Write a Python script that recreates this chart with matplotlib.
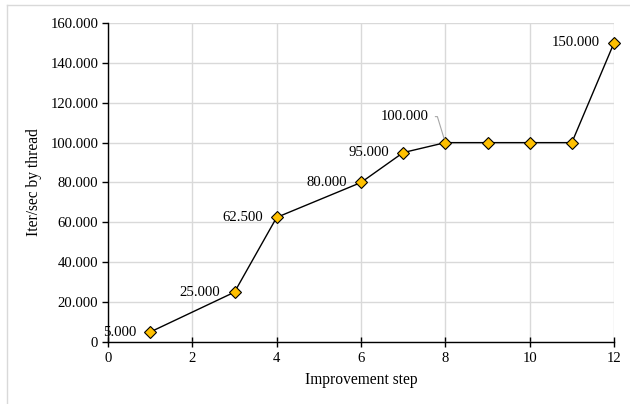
import matplotlib
matplotlib.use("Agg")
from matplotlib import pyplot as plt
from matplotlib.lines import Line2D

steps = [1, 3, 4, 6, 7, 8, 9, 10, 11, 12]
iters = [5000, 25000, 62500, 80000, 95000, 100000, 100000, 100000, 100000, 150000]
labeled = [1, 3, 4, 6, 7, 12]
x_ticks = [0, 2, 4, 6, 8, 10, 12]
y_ticks = [0, 20000, 40000, 60000, 80000, 100000, 120000, 140000, 160000]


def fmt(v):
    return f"{v:,.0f}".replace(",", ".")


plt.rcParams["font.family"] = ["Liberation Serif", "DejaVu Serif"]
plt.rcParams["font.size"] = 10.6

fig = plt.figure(figsize=(6.3, 4.04), dpi=100)
ax = fig.add_axes([108 / 630, 1 - 342 / 404, 506 / 630, 319 / 404])

# outer chart frame
fig.add_artist(Line2D([7 / 630, 7 / 630], [0, 1 - 5 / 404], color="#d9d9d9", lw=1, transform=fig.transFigure))
fig.add_artist(Line2D([7 / 630, 1], [1 - 5 / 404, 1 - 5 / 404], color="#d9d9d9", lw=1, transform=fig.transFigure))

ax.plot(steps, iters, color="black", lw=1, marker="D", ms=6.5,
        mfc="#ffc000", mec="black", mew=0.8, zorder=3, clip_on=False)

for x, y in zip(steps, iters):
    if x in labeled:
        ax.annotate(fmt(y), (x, y), xytext=(-14, 0), textcoords="offset pixels",
                    ha="right", va="center")

# label with leader line for step 8
ax.annotate(fmt(100000), (8, 100000), xytext=(-17, 26), textcoords="offset pixels",
            ha="right", va="center",
            arrowprops=dict(arrowstyle="-", color="#a6a6a6", lw=0.8,
                            connectionstyle="angle,angleA=0,angleB=107,rad=0",
                            shrinkA=3, shrinkB=3))

ax.set_xlim(0, 12)
ax.set_ylim(0, 160000)
ax.set_xticks(x_ticks)
ax.set_yticks(y_ticks)
ax.set_yticklabels([fmt(v) for v in y_ticks])
ax.grid(True, color="#d9d9d9", lw=1)
ax.set_axisbelow(True)

for s in ["top", "right"]:
    ax.spines[s].set_visible(False)
for s in ["left", "bottom"]:
    ax.spines[s].set_color("black")
    ax.spines[s].set_linewidth(1)

ax.tick_params(axis="x", direction="inout", length=7, width=1, pad=4)
ax.tick_params(axis="y", direction="out", length=4, width=1, pad=3)

ax.set_xlabel("Improvement step", fontsize=11.2, labelpad=5)
ax.set_ylabel("Iter/sec by thread", fontsize=11.2, labelpad=6)

fig.savefig("out.png", dpi=100)
